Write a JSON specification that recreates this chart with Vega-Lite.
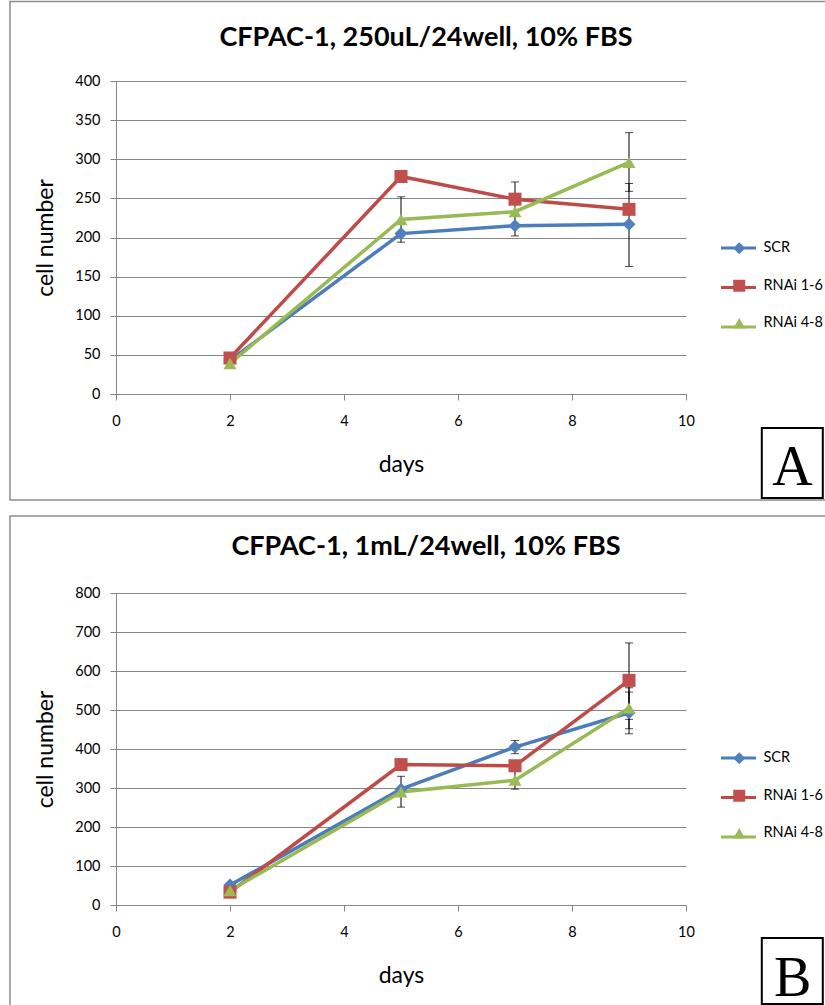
{
  "$schema": "https://vega.github.io/schema/vega-lite/v6.json",
  "padding": {"left": 9, "top": 0, "right": 0, "bottom": 0},
  "background": "white",
  "spacing": 14,
  "datasets": {
    "a": [
      {"day": 2, "series": "SCR", "value": 43, "lo": null, "hi": null},
      {"day": 5, "series": "SCR", "value": 205, "lo": null, "hi": null},
      {"day": 7, "series": "SCR", "value": 215, "lo": 202, "hi": 228},
      {"day": 9, "series": "SCR", "value": 217, "lo": 163, "hi": 269},
      {"day": 2, "series": "RNAi 1-6", "value": 46, "lo": null, "hi": null},
      {"day": 5, "series": "RNAi 1-6", "value": 278, "lo": null, "hi": null},
      {"day": 7, "series": "RNAi 1-6", "value": 249, "lo": 227, "hi": 271},
      {"day": 9, "series": "RNAi 1-6", "value": 236, "lo": null, "hi": null},
      {"day": 2, "series": "RNAi 4-8", "value": 39, "lo": null, "hi": null},
      {"day": 5, "series": "RNAi 4-8", "value": 223, "lo": 194, "hi": 252},
      {"day": 7, "series": "RNAi 4-8", "value": 233, "lo": null, "hi": null},
      {"day": 9, "series": "RNAi 4-8", "value": 296, "lo": 259, "hi": 334}
    ],
    "b": [
      {"day": 2, "series": "SCR", "value": 51, "lo": null, "hi": null},
      {"day": 5, "series": "SCR", "value": 297, "lo": null, "hi": null},
      {"day": 7, "series": "SCR", "value": 405, "lo": 388, "hi": 422},
      {"day": 9, "series": "SCR", "value": 493, "lo": 439, "hi": 546},
      {"day": 2, "series": "RNAi 1-6", "value": 33, "lo": null, "hi": null},
      {"day": 5, "series": "RNAi 1-6", "value": 360, "lo": null, "hi": null},
      {"day": 7, "series": "RNAi 1-6", "value": 357, "lo": null, "hi": null},
      {"day": 9, "series": "RNAi 1-6", "value": 576, "lo": 476, "hi": 672},
      {"day": 2, "series": "RNAi 4-8", "value": 37, "lo": null, "hi": null},
      {"day": 5, "series": "RNAi 4-8", "value": 290, "lo": 251, "hi": 330},
      {"day": 7, "series": "RNAi 4-8", "value": 320, "lo": 297, "hi": 343},
      {"day": 9, "series": "RNAi 4-8", "value": 505, "lo": 452, "hi": 557}
    ]
  },
  "config": {
    "view": {"stroke": null},
    "font": "Lato",
    "axis": {
      "domainColor": "#868686", "tickColor": "#868686", "gridColor": "#868686",
      "labelFont": "Lato", "labelFontSize": 14.5, "labelColor": "#000000",
      "titleFont": "Lato", "titleFontSize": 23, "titleFontWeight": "normal", "titleColor": "#000000",
      "tickSize": 6
    },
    "axisX": {"labelFlush": false},
    "legend": {
      "labelFont": "Lato", "labelFontSize": 14.5, "labelColor": "#000000"
    }
  },
  "resolve": {
    "scale": {"stroke": "independent", "fill": "independent", "shape": "independent", "x": "independent", "y": "independent"},
    "legend": {"stroke": "independent", "fill": "independent", "shape": "independent"}
  },
  "vconcat": [
    {
      "width": 570, "height": 313,
      "title": {"text": "CFPAC-1, 250uL/24well, 10% FBS", "font": "Lato", "fontSize": 27, "fontWeight": "bold", "color": "#000000", "anchor": "middle", "frame": "group", "dx": 25, "offset": -51},
      "data": {"name": "a"},
      "layer": [
        {
          "transform": [{"filter": "isValid(datum.lo)"}],
          "mark": {"type": "rule", "color": "black", "strokeWidth": 1},
          "encoding": {
            "x": {"field": "day", "type": "quantitative", "scale": {"domain": [0, 10], "nice": false}, "title": "days",
              "axis": {"values": [0, 2, 4, 6, 8, 10], "format": "d", "grid": false, "labelFlush": false, "labelPadding": 14, "titlePadding": 26}},
            "y": {"field": "lo", "type": "quantitative", "scale": {"domain": [0, 400], "nice": false}, "title": "cell number",
              "axis": {"values": [0, 50, 100, 150, 200, 250, 300, 350, 400], "format": "d", "grid": true, "labelPadding": 10, "titlePadding": 17}},
            "y2": {"field": "hi"}
          }
        },
        {
          "transform": [{"filter": "isValid(datum.lo)"}],
          "mark": {"type": "tick", "orient": "horizontal", "color": "black", "size": 8, "thickness": 1},
          "encoding": {
            "x": {"field": "day", "type": "quantitative", "title": "days",
              "axis": {"values": [0, 2, 4, 6, 8, 10], "format": "d", "grid": false, "labelFlush": false, "labelPadding": 14, "titlePadding": 26}},
            "y": {"field": "lo", "type": "quantitative", "title": "cell number",
              "axis": {"values": [0, 50, 100, 150, 200, 250, 300, 350, 400], "format": "d", "grid": true, "labelPadding": 10, "titlePadding": 17}}
          }
        },
        {
          "transform": [{"filter": "isValid(datum.hi)"}],
          "mark": {"type": "tick", "orient": "horizontal", "color": "black", "size": 8, "thickness": 1},
          "encoding": {
            "x": {"field": "day", "type": "quantitative", "title": "days",
              "axis": {"values": [0, 2, 4, 6, 8, 10], "format": "d", "grid": false, "labelFlush": false, "labelPadding": 14, "titlePadding": 26}},
            "y": {"field": "hi", "type": "quantitative", "title": "cell number",
              "axis": {"values": [0, 50, 100, 150, 200, 250, 300, 350, 400], "format": "d", "grid": true, "labelPadding": 10, "titlePadding": 17}}
          }
        },
        {
          "mark": {"type": "line", "strokeWidth": 3.5},
          "encoding": {
            "x": {"field": "day", "type": "quantitative", "title": "days",
              "axis": {"values": [0, 2, 4, 6, 8, 10], "format": "d", "grid": false, "labelFlush": false, "labelPadding": 14, "titlePadding": 26}},
            "y": {"field": "value", "type": "quantitative", "title": "cell number",
              "axis": {"values": [0, 50, 100, 150, 200, 250, 300, 350, 400], "format": "d", "grid": true, "labelPadding": 10, "titlePadding": 17}},
            "stroke": {"field": "series", "type": "nominal", "sort": ["SCR", "RNAi 1-6", "RNAi 4-8"],
              "scale": {"range": ["#4A7EBB", "#BE4B48", "#98B954"]},
              "legend": {"orient": "none", "legendX": 603.5, "legendY": 148, "title": null, "padding": 0, "symbolType": "stroke", "symbolSize": 1225, "symbolStrokeWidth": 3, "labelExpr": "''", "labelOpacity": 0, "rowPadding": 13.5}}
          }
        },
        {
          "mark": {"type": "point", "filled": true, "opacity": 1, "size": 170},
          "encoding": {
            "x": {"field": "day", "type": "quantitative", "title": "days",
              "axis": {"values": [0, 2, 4, 6, 8, 10], "format": "d", "grid": false, "labelFlush": false, "labelPadding": 14, "titlePadding": 26}},
            "y": {"field": "value", "type": "quantitative", "title": "cell number",
              "axis": {"values": [0, 50, 100, 150, 200, 250, 300, 350, 400], "format": "d", "grid": true, "labelPadding": 10, "titlePadding": 17}},
            "fill": {"field": "series", "type": "nominal",
              "scale": {"domain": ["SCR", "RNAi 1-6", "RNAi 4-8"], "range": ["#4F81BD", "#C0504D", "#9BBB59"]},
              "legend": {"orient": "none", "legendX": 616, "legendY": 160, "title": null, "padding": 0, "symbolSize": 144, "symbolStrokeWidth": 0, "labelOffset": 17, "rowPadding": 22.5}},
            "shape": {"field": "series", "type": "nominal",
              "scale": {"domain": ["SCR", "RNAi 1-6", "RNAi 4-8"], "range": ["diamond", "square", "triangle-up"]},
              "legend": {"orient": "none", "legendX": 616, "legendY": 160, "title": null, "padding": 0, "symbolSize": 144, "symbolStrokeWidth": 0, "labelOffset": 17, "rowPadding": 22.5}}
          }
        },
        {
          "data": {"values": [{"label": "frame"}]},
          "mark": {"type": "rect", "filled": false, "color": "#8c8c8c", "strokeWidth": 1.5},
          "encoding": {
            "x": {"datum": -1.86, "type": "quantitative",
              "axis": {"values": [0, 2, 4, 6, 8, 10], "format": "d", "grid": false, "labelFlush": false, "labelPadding": 14, "titlePadding": 26}},
            "x2": {"datum": 12.46},
            "y": {"datum": 501.6, "type": "quantitative",
              "axis": {"values": [0, 50, 100, 150, 200, 250, 300, 350, 400], "format": "d", "grid": true, "labelPadding": 10, "titlePadding": 17}},
            "y2": {"datum": -135.5}
          }
        },
        {
          "data": {"values": [{"label": "A"}]},
          "mark": {"type": "rect", "fill": "white", "stroke": "black", "strokeWidth": 2},
          "encoding": {
            "x": {"datum": 11.33, "type": "quantitative",
              "axis": {"values": [0, 2, 4, 6, 8, 10], "format": "d", "grid": false, "labelFlush": false, "labelPadding": 14, "titlePadding": 26}},
            "x2": {"datum": 12.4},
            "y": {"datum": -43.5, "type": "quantitative",
              "axis": {"values": [0, 50, 100, 150, 200, 250, 300, 350, 400], "format": "d", "grid": true, "labelPadding": 10, "titlePadding": 17}},
            "y2": {"datum": -132.9}
          }
        },
        {
          "data": {"values": [{"label": "A"}]},
          "mark": {"type": "text", "font": "Liberation Serif", "fontSize": 56, "align": "center", "baseline": "alphabetic", "color": "black"},
          "encoding": {
            "text": {"field": "label"},
            "x": {"datum": 11.87, "type": "quantitative",
              "axis": {"values": [0, 2, 4, 6, 8, 10], "format": "d", "grid": false, "labelFlush": false, "labelPadding": 14, "titlePadding": 26}},
            "y": {"datum": -116.3, "type": "quantitative",
              "axis": {"values": [0, 50, 100, 150, 200, 250, 300, 350, 400], "format": "d", "grid": true, "labelPadding": 10, "titlePadding": 17}}
          }
        }
      ]
    },
    {
      "width": 570, "height": 312,
      "title": {"text": "CFPAC-1, 1mL/24well, 10% FBS", "font": "Lato", "fontSize": 27, "fontWeight": "bold", "color": "#000000", "anchor": "middle", "frame": "group", "dx": 25, "offset": -46},
      "data": {"name": "b"},
      "layer": [
        {
          "transform": [{"filter": "isValid(datum.lo)"}],
          "mark": {"type": "rule", "color": "black", "strokeWidth": 1},
          "encoding": {
            "x": {"field": "day", "type": "quantitative", "scale": {"domain": [0, 10], "nice": false}, "title": "days",
              "axis": {"values": [0, 2, 4, 6, 8, 10], "format": "d", "grid": false, "labelFlush": false, "labelPadding": 14, "titlePadding": 26}},
            "y": {"field": "lo", "type": "quantitative", "scale": {"domain": [0, 800], "nice": false}, "title": "cell number",
              "axis": {"values": [0, 100, 200, 300, 400, 500, 600, 700, 800], "format": "d", "grid": true, "labelPadding": 10, "titlePadding": 17}},
            "y2": {"field": "hi"}
          }
        },
        {
          "transform": [{"filter": "isValid(datum.lo)"}],
          "mark": {"type": "tick", "orient": "horizontal", "color": "black", "size": 8, "thickness": 1},
          "encoding": {
            "x": {"field": "day", "type": "quantitative", "title": "days",
              "axis": {"values": [0, 2, 4, 6, 8, 10], "format": "d", "grid": false, "labelFlush": false, "labelPadding": 14, "titlePadding": 26}},
            "y": {"field": "lo", "type": "quantitative", "title": "cell number",
              "axis": {"values": [0, 100, 200, 300, 400, 500, 600, 700, 800], "format": "d", "grid": true, "labelPadding": 10, "titlePadding": 17}}
          }
        },
        {
          "transform": [{"filter": "isValid(datum.hi)"}],
          "mark": {"type": "tick", "orient": "horizontal", "color": "black", "size": 8, "thickness": 1},
          "encoding": {
            "x": {"field": "day", "type": "quantitative", "title": "days",
              "axis": {"values": [0, 2, 4, 6, 8, 10], "format": "d", "grid": false, "labelFlush": false, "labelPadding": 14, "titlePadding": 26}},
            "y": {"field": "hi", "type": "quantitative", "title": "cell number",
              "axis": {"values": [0, 100, 200, 300, 400, 500, 600, 700, 800], "format": "d", "grid": true, "labelPadding": 10, "titlePadding": 17}}
          }
        },
        {
          "mark": {"type": "line", "strokeWidth": 3.5},
          "encoding": {
            "x": {"field": "day", "type": "quantitative", "title": "days",
              "axis": {"values": [0, 2, 4, 6, 8, 10], "format": "d", "grid": false, "labelFlush": false, "labelPadding": 14, "titlePadding": 26}},
            "y": {"field": "value", "type": "quantitative", "title": "cell number",
              "axis": {"values": [0, 100, 200, 300, 400, 500, 600, 700, 800], "format": "d", "grid": true, "labelPadding": 10, "titlePadding": 17}},
            "stroke": {"field": "series", "type": "nominal", "sort": ["SCR", "RNAi 1-6", "RNAi 4-8"],
              "scale": {"range": ["#4A7EBB", "#BE4B48", "#98B954"]},
              "legend": {"orient": "none", "legendX": 603.5, "legendY": 146, "title": null, "padding": 0, "symbolType": "stroke", "symbolSize": 1225, "symbolStrokeWidth": 3, "labelExpr": "''", "labelOpacity": 0, "rowPadding": 13.5}}
          }
        },
        {
          "mark": {"type": "point", "filled": true, "opacity": 1, "size": 170},
          "encoding": {
            "x": {"field": "day", "type": "quantitative", "title": "days",
              "axis": {"values": [0, 2, 4, 6, 8, 10], "format": "d", "grid": false, "labelFlush": false, "labelPadding": 14, "titlePadding": 26}},
            "y": {"field": "value", "type": "quantitative", "title": "cell number",
              "axis": {"values": [0, 100, 200, 300, 400, 500, 600, 700, 800], "format": "d", "grid": true, "labelPadding": 10, "titlePadding": 17}},
            "fill": {"field": "series", "type": "nominal",
              "scale": {"domain": ["SCR", "RNAi 1-6", "RNAi 4-8"], "range": ["#4F81BD", "#C0504D", "#9BBB59"]},
              "legend": {"orient": "none", "legendX": 616, "legendY": 158, "title": null, "padding": 0, "symbolSize": 144, "symbolStrokeWidth": 0, "labelOffset": 17, "rowPadding": 22.5}},
            "shape": {"field": "series", "type": "nominal",
              "scale": {"domain": ["SCR", "RNAi 1-6", "RNAi 4-8"], "range": ["diamond", "square", "triangle-up"]},
              "legend": {"orient": "none", "legendX": 616, "legendY": 158, "title": null, "padding": 0, "symbolSize": 144, "symbolStrokeWidth": 0, "labelOffset": 17, "rowPadding": 22.5}}
          }
        },
        {
          "data": {"values": [{"label": "frame"}]},
          "mark": {"type": "rect", "filled": false, "color": "#8c8c8c", "strokeWidth": 1.5},
          "encoding": {
            "x": {"datum": -1.86, "type": "quantitative",
              "axis": {"values": [0, 2, 4, 6, 8, 10], "format": "d", "grid": false, "labelFlush": false, "labelPadding": 14, "titlePadding": 26}},
            "x2": {"datum": 12.46},
            "y": {"datum": 997.4, "type": "quantitative",
              "axis": {"values": [0, 100, 200, 300, 400, 500, 600, 700, 800], "format": "d", "grid": true, "labelPadding": 10, "titlePadding": 17}},
            "y2": {"datum": -271.8}
          }
        },
        {
          "data": {"values": [{"label": "B"}]},
          "mark": {"type": "rect", "fill": "white", "stroke": "black", "strokeWidth": 2},
          "encoding": {
            "x": {"datum": 11.33, "type": "quantitative",
              "axis": {"values": [0, 2, 4, 6, 8, 10], "format": "d", "grid": false, "labelFlush": false, "labelPadding": 14, "titlePadding": 26}},
            "x2": {"datum": 12.4},
            "y": {"datum": -84.6, "type": "quantitative",
              "axis": {"values": [0, 100, 200, 300, 400, 500, 600, 700, 800], "format": "d", "grid": true, "labelPadding": 10, "titlePadding": 17}},
            "y2": {"datum": -253.8}
          }
        },
        {
          "data": {"values": [{"label": "B"}]},
          "mark": {"type": "text", "font": "Liberation Serif", "fontSize": 56, "align": "center", "baseline": "alphabetic", "color": "black"},
          "encoding": {
            "text": {"field": "label"},
            "x": {"datum": 11.87, "type": "quantitative",
              "axis": {"values": [0, 2, 4, 6, 8, 10], "format": "d", "grid": false, "labelFlush": false, "labelPadding": 14, "titlePadding": 26}},
            "y": {"datum": -233, "type": "quantitative",
              "axis": {"values": [0, 100, 200, 300, 400, 500, 600, 700, 800], "format": "d", "grid": true, "labelPadding": 10, "titlePadding": 17}}
          }
        }
      ]
    }
  ]
}
